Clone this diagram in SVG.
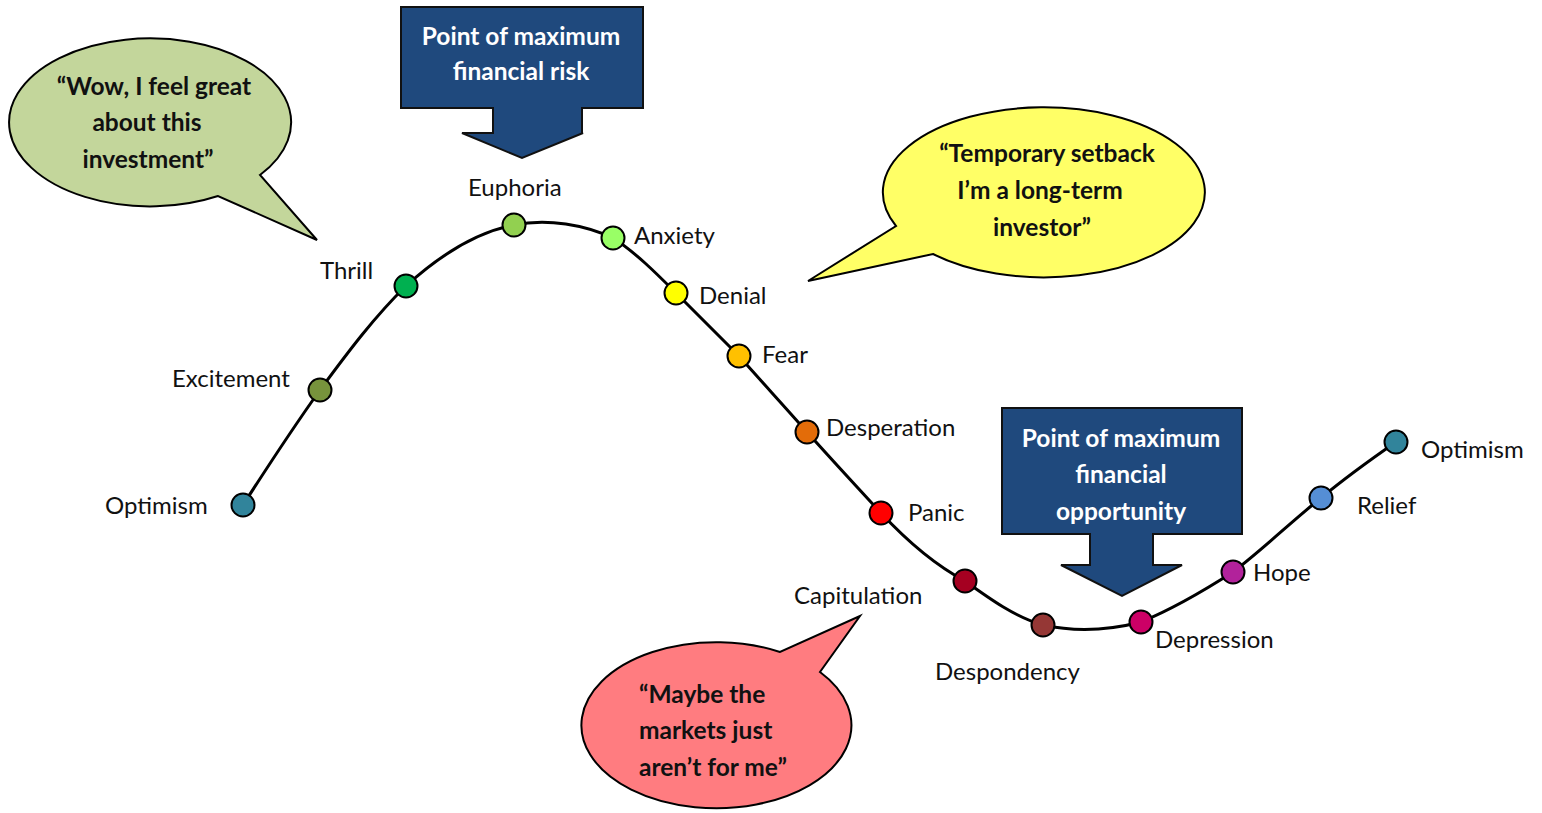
<svg xmlns="http://www.w3.org/2000/svg" width="1542" height="813" viewBox="0 0 1542 813">
<style>
.lbl{font-family:Lato,"Open Sans","Liberation Sans",sans-serif;font-size:24px;fill:#111}
.bt{font-family:Lato,"Open Sans","Liberation Sans",sans-serif;font-size:24.5px;font-weight:bold;fill:#111}
.wt{font-family:Lato,"Open Sans","Liberation Sans",sans-serif;font-size:24.5px;font-weight:bold;fill:#fff;text-anchor:middle}
.dot{stroke:#000;stroke-width:2}
.bub{stroke:#000;stroke-width:2;stroke-linejoin:miter}
.box{fill:#1f497d;stroke:#111;stroke-width:2}
</style>
<rect width="1542" height="813" fill="#fff"/>
<g id="connectors">
<path d="M243,505 C270,463 295,425 320,390 C348,352 375,316 406,286 C440,255 478,232 514,225 C548,218 585,225 613,238 C635,252 656,273 676,293 L739,356 C762,382 785,407 807,432 C832,460 857,487 881,513 C908,542 935,565 965,581 C990,599 1015,617 1043,625 C1075,632 1110,630 1141,622 C1175,608 1205,590 1233,572 C1262,550 1292,521 1321,498 C1345,478 1370,460 1396,442" fill="none" stroke="#000" stroke-width="3"/>
</g>
<g id="bubble-wow">
<path class="bub" fill="#c3d69b" d="M218,196 A141,84 0 1 1 260,175 L317,240 Z"/>
<text class="bt" text-anchor="middle"><tspan x="154" y="95">“Wow, I feel great</tspan><tspan x="147" y="131">about this</tspan><tspan x="148" y="168">investment”</tspan></text>
</g>
<g id="box-risk">
<path class="box" d="M401,7 H643 V108 H582 V133 H583 L522,158 L462,133 H493 V108 H401 Z"/>
<text class="wt"><tspan x="521" y="45">Point of maximum</tspan><tspan x="521" y="80">financial risk</tspan></text>
</g>
<g id="bubble-setback">
<path class="bub" fill="#ffff66" d="M933,254 A161,85 0 1 0 896,226 L808,281 Z"/>
<text class="bt" text-anchor="middle"><tspan x="1047" y="162">“Temporary setback</tspan><tspan x="1040" y="199">I’m a long-term</tspan><tspan x="1042" y="236">investor”</tspan></text>
</g>
<g id="bubble-maybe">
<path class="bub" fill="#ff7c80" d="M780,652 A135,83 0 1 0 820,672 L860,616 Z"/>
<text class="bt"><tspan x="639" y="703">“Maybe the</tspan><tspan x="639" y="739">markets just</tspan><tspan x="639" y="776">aren’t for me”</tspan></text>
</g>
<g id="box-opportunity">
<path class="box" d="M1002,408 H1242 V534 H1153 V565 H1182 L1122,596 L1061,565 H1090 V534 H1002 Z"/>
<text class="wt"><tspan x="1121" y="447">Point of maximum</tspan><tspan x="1121" y="483">financial</tspan><tspan x="1121" y="520">opportunity</tspan></text>
</g>
<g id="n-optimism1"><circle class="dot" cx="243" cy="505" r="11.5" fill="#31849b"/><text class="lbl" x="105" y="514">Optimism</text></g>
<g id="n-excitement"><circle class="dot" cx="320" cy="390" r="11.5" fill="#77933c"/><text class="lbl" x="172" y="387">Excitement</text></g>
<g id="n-thrill"><circle class="dot" cx="406" cy="286" r="11.5" fill="#00b050"/><text class="lbl" x="320" y="279">Thrill</text></g>
<g id="n-euphoria"><circle class="dot" cx="514" cy="225" r="11.5" fill="#92d050"/><text class="lbl" x="468" y="196">Euphoria</text></g>
<g id="n-anxiety"><circle class="dot" cx="613" cy="238" r="11.5" fill="#99ff66"/><text class="lbl" x="634" y="244">Anxiety</text></g>
<g id="n-denial"><circle class="dot" cx="676" cy="293" r="11.5" fill="#ffff00"/><text class="lbl" x="699" y="304">Denial</text></g>
<g id="n-fear"><circle class="dot" cx="739" cy="356" r="11.5" fill="#ffc000"/><text class="lbl" x="762" y="363">Fear</text></g>
<g id="n-desperation"><circle class="dot" cx="807" cy="432" r="11.5" fill="#e36c09"/><text class="lbl" x="826" y="436">Desperation</text></g>
<g id="n-panic"><circle class="dot" cx="881" cy="513" r="11.5" fill="#ff0000"/><text class="lbl" x="908" y="521">Panic</text></g>
<g id="n-capitulation"><circle class="dot" cx="965" cy="581" r="11.5" fill="#a50021"/><text class="lbl" x="794" y="604">Capitulation</text></g>
<g id="n-despondency"><circle class="dot" cx="1043" cy="625" r="11.5" fill="#953735"/><text class="lbl" x="935" y="680">Despondency</text></g>
<g id="n-depression"><circle class="dot" cx="1141" cy="622" r="11.5" fill="#cc0066"/><text class="lbl" x="1155" y="648">Depression</text></g>
<g id="n-hope"><circle class="dot" cx="1233" cy="572" r="11.5" fill="#b2229b"/><text class="lbl" x="1253" y="581">Hope</text></g>
<g id="n-relief"><circle class="dot" cx="1321" cy="498" r="11.5" fill="#558ed5"/><text class="lbl" x="1357" y="514">Relief</text></g>
<g id="n-optimism2"><circle class="dot" cx="1396" cy="442" r="11.5" fill="#31849b"/><text class="lbl" x="1421" y="458">Optimism</text></g>
</svg>
